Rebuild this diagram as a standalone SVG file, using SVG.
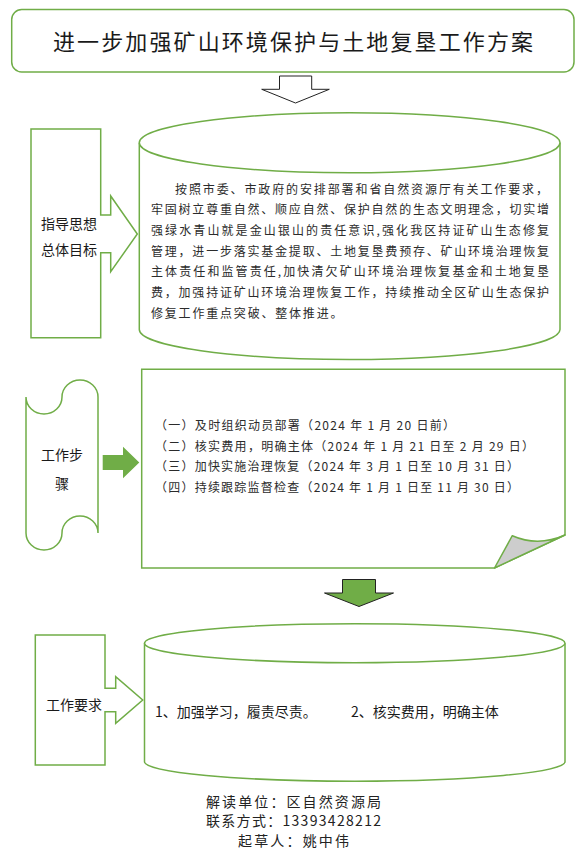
<svg xmlns="http://www.w3.org/2000/svg" width="586" height="865" viewBox="0 0 586 865">
<style>
.g{fill:#fff;stroke:#70AD47;stroke-width:1.5}
.cn{font-family:"Noto Sans CJK SC","Liberation Sans",sans-serif;fill:#1a1a1a}
.body{font-family:"Noto Sans CJK SC","Liberation Sans",sans-serif;font-size:12px;fill:#2b2b2b}
.lbl{font-size:14px}
.foot{font-size:14px;fill:#222}
</style>
<rect width="586" height="865" fill="#fff"/>

<g id="title">
<rect class="g" x="11.7" y="9.5" width="562.3" height="62.5" rx="10"/>
<text class="cn" x="53" y="50" font-size="22" textLength="480" lengthAdjust="spacing">进一步加强矿山环境保护与土地复垦工作方案</text>
</g>

<g id="connectors">
<polygon points="279.5,76 311.7,76 311.7,89.3 329.3,89.3 295.5,103 261.7,89.3 279.5,89.3" fill="#fff" stroke="#222" stroke-width="1"/>
<polygon points="102.7,455 123,455 123,446.7 139.3,462.5 123,478.3 123,470 102.7,470" fill="#70AD47"/>
<polygon points="342.5,579.5 375.5,579.5 375.5,593 393.5,593 359,606.5 324.5,593 342.5,593" fill="#70AD47" stroke="#222" stroke-width="1"/>
</g>

<g id="guide">
<path class="g" d="M31,129 H100.7 V215 H110.7 V196 L137.3,234 L110.7,271.7 V252.7 H100.7 V337.7 H31 Z"/>
<text class="cn lbl" x="41" y="228.5">指导思想</text>
<text class="cn lbl" x="41" y="255">总体目标</text>
</g>

<g id="guide-text">
<path class="g" d="M139.3,142.7 V329.5 A210.35,30 0 0 0 560,329.5 V142.7"/>
<ellipse class="g" cx="349.65" cy="142.7" rx="210.35" ry="30"/>
<text class="body" x="175" y="193.6" textLength="373" lengthAdjust="spacing">按照市委、市政府的安排部署和省自然资源厅有关工作要求，</text>
<text class="body" x="151" y="214.3" textLength="398" lengthAdjust="spacing">牢固树立尊重自然、顺应自然、保护自然的生态文明理念，切实增</text>
<text class="body" x="151" y="235" textLength="398" lengthAdjust="spacing">强绿水青山就是金山银山的责任意识,强化我区持证矿山生态修复</text>
<text class="body" x="151" y="255.7" textLength="398" lengthAdjust="spacing">管理，进一步落实基金提取、土地复垦费预存、矿山环境治理恢复</text>
<text class="body" x="151" y="276.4" textLength="398" lengthAdjust="spacing">主体责任和监管责任,加快清欠矿山环境治理恢复基金和土地复垦</text>
<text class="body" x="151" y="297.1" textLength="398" lengthAdjust="spacing">费，加强持证矿山环境治理恢复工作，持续推动全区矿山生态保护</text>
<text class="body" x="151" y="317.8" textLength="191.5" lengthAdjust="spacing">修复工作重点突破、整体推进。</text>
</g>

<g id="steps">
<path class="g" d="M26,397 A18,17 0 0 0 62,397 A18,17 0 0 1 98,397 L98,533 A18,17 0 0 0 62,533 A18,17 0 0 1 26,533 Z"/>
<text class="cn lbl" x="62" y="460" text-anchor="middle">工作步</text>
<text class="cn lbl" x="62" y="488.5" text-anchor="middle">骤</text>
</g>

<g id="steps-text">
<path class="g" d="M141.7,369.3 H565 V535 L494.5,568 H141.7 Z"/>
<path d="M494.5,568 L512.3,535.7 Q538,547 565,535 Z" fill="#CDCDCD" stroke="#70AD47" stroke-width="1.5" stroke-linejoin="round"/>
<text class="body" x="155" y="429.8" textLength="300" lengthAdjust="spacing">（一）及时组织动员部署（2024 年 1 月 20 日前）</text>
<text class="body" x="155" y="450.5" textLength="379" lengthAdjust="spacing">（二）核实费用，明确主体（2024 年 1 月 21 日至 2 月 29 日）</text>
<text class="body" x="155" y="471.2" textLength="364" lengthAdjust="spacing">（三）加快实施治理恢复（2024 年 3 月 1 日至 10 月 31 日）</text>
<text class="body" x="155" y="491.9" textLength="364" lengthAdjust="spacing">（四）持续跟踪监督检查（2024 年 1 月 1 日至 11 月 30 日）</text>
</g>

<g id="requirements">
<path class="g" d="M35.3,635 H105 V688.3 H115.7 V676.7 L142.7,700 L115.7,723.3 V711.7 H105 V765 H35.3 Z"/>
<text class="cn lbl" x="46" y="710">工作要求</text>
</g>

<g id="requirements-text">
<path class="g" d="M144.5,643.2 V761.7 A210.25,19.5 0 0 0 565,761.7 V643.2"/>
<ellipse class="g" cx="354.75" cy="643.2" rx="210.25" ry="19.5"/>
<text class="cn lbl" x="155" y="716.5">1、加强学习，履责尽责。</text>
<text class="cn lbl" x="351" y="716.5">2、核实费用，明确主体</text>
</g>

<g id="footer">
<text class="cn foot" x="206" y="806.5" textLength="175" lengthAdjust="spacing">解读单位：区自然资源局</text>
<text class="cn foot" x="206" y="826" textLength="175" lengthAdjust="spacing">联系方式：13393428212</text>
<text class="cn foot" x="238" y="845.5" textLength="111" lengthAdjust="spacing">起草人：姚中伟</text>
</g>
</svg>
